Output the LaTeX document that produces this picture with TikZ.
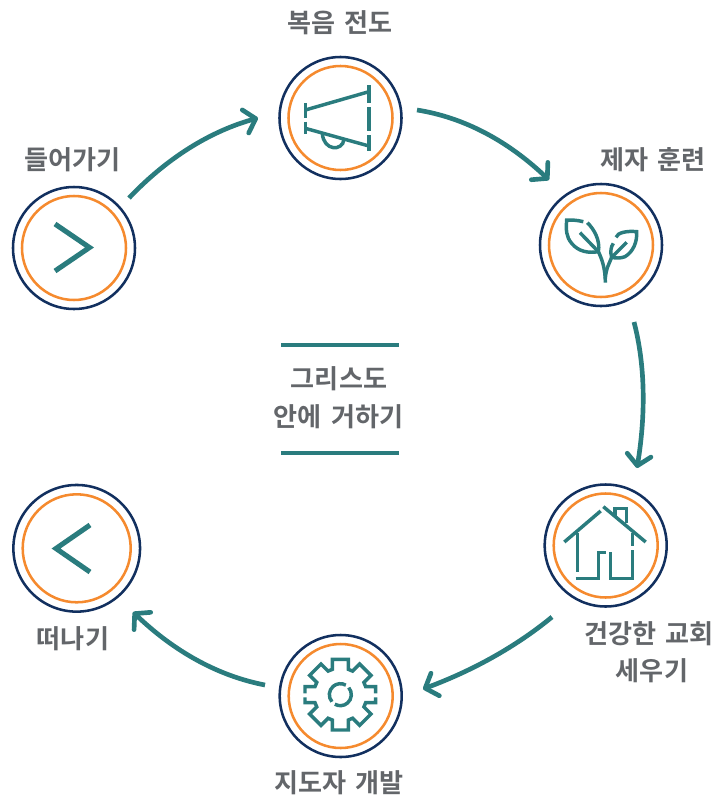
\documentclass[tikz,border=0pt]{standalone}
\usepackage{fontspec}
\setmainfont{Noto Sans CJK KR}[BoldFont={Noto Sans CJK KR Bold},WordSpace=1.6]
\usetikzlibrary{arrows.meta,calc}
\definecolor{teal1}{HTML}{2A7C7E}
\definecolor{navy1}{HTML}{12305F}
\definecolor{orange1}{HTML}{F58A2E}
\definecolor{grey1}{HTML}{63666A}
\tikzset{
  outerring/.style={circle,draw=navy1,line width=1.9pt,inner sep=0pt,minimum size=91.5pt},
  outerbig/.style={circle,draw=navy1,line width=1.9pt,inner sep=0pt,minimum size=95pt},
  innerring/.style={circle,draw=orange1,line width=1.9pt,inner sep=0pt,minimum size=78pt},
  innerbig/.style={circle,draw=orange1,line width=1.9pt,inner sep=0pt,minimum size=81pt},
  flow/.style={draw=teal1,line width=3.5pt,-{Straight Barb[length=8pt,width=18pt,round,line width=3.5pt]}},
  icon/.style={draw=teal1,line width=2.6pt},
  chev/.style={draw=teal1,line width=3.8pt,miter limit=10},
  rule/.style={draw=teal1,line width=2.8pt},
  lab/.style={text=grey1,font=\fontsize{19.6pt}{24pt}\selectfont\bfseries,inner sep=0pt,align=center},
  zoomed/.style={x=.25pt,y=-.25pt}
}
\begin{document}
\begin{tikzpicture}[x=.75pt,y=-.75pt]
\useasboundingbox (0,0) rectangle (717,800);
% rings
\node[outerring] (top) at (340.5,118) {};
\node[innerring] at (top) {};
\node[outerring] (disc) at (601,245) {};
\node[innerring] at (disc) {};
\node[outerring] (home) at (605.7,545.5) {};
\node[innerring] at (home) {};
\node[outerring] (gear) at (340.7,696) {};
\node[innerring] at (gear) {};
\node[outerbig] (leave) at (76.7,548.3) {};
\node[innerbig] at (leave) {};
\node[outerring] (enter) at (74,248) {};
\node[innerring] at (enter) {};
% labels
\node[lab] (l1) at (340,23) {복음 전도};
\node[lab] (l2) at (653,160) {제자 훈련};
\node[lab] (l3) at (72.5,160) {들어가기};
\node[lab] (l4) at (339,379) {그리스도};
\node[lab] (l5) at (338.5,417) {안에 거하기};
\node[lab] (l6) at (649,634) {건강한 교회};
\node[lab] (l7) at (652,671) {세우기};
\node[lab] (l8) at (73,639) {떠나기};
\node[lab] (l9) at (339,783) {지도자 개발};
% central rules
\coordinate (r1a) at (281,345); \coordinate (r1b) at (399,345);
\coordinate (r2a) at (281,453); \coordinate (r2b) at (399,453);
\draw[rule] (r1a) -- (r1b);
\draw[rule] (r2a) -- (r2b);
% connector ends
\coordinate (a1s) at ([shift={(55,-50)}]enter.center);
\coordinate (a1e) at ([shift={(-82.5,0)}]top.center);
\coordinate (a2s) at ([shift={(76.5,-8)}]top.center);
\coordinate (a2e) at ([shift={(-52,-65)}]disc.center);
\coordinate (a3s) at ([shift={(33,77)}]disc.center);
\coordinate (a3e) at ([shift={(31.3,-77.5)}]home.center);
\coordinate (a4s) at ([shift={(-53.7,71.5)}]home.center);
\coordinate (a4e) at ([shift={(82.3,-7)}]gear.center);
\coordinate (a5s) at ([shift={(-75.7,-11)}]gear.center);
\coordinate (a5e) at ([shift={(56.3,63.7)}]leave.center);
\coordinate (c1) at (186,138);
\coordinate (c2) at (487,121);
\coordinate (c3) at (650.5,385);
\coordinate (c4) at (498.5,661);
\coordinate (c5) at (195,671.5);
\draw[flow] (a1s) .. controls ($(a1s)!.667!(c1)$) and ($(a1e)!.667!(c1)$) .. (a1e);
\draw[flow] (a2s) .. controls ($(a2s)!.667!(c2)$) and ($(a2e)!.667!(c2)$) .. (a2e);
\draw[flow] (a3s) .. controls ($(a3s)!.667!(c3)$) and ($(a3e)!.667!(c3)$) .. (a3e);
\draw[flow] (a4s) .. controls ($(a4s)!.667!(c4)$) and ($(a4e)!.667!(c4)$) .. (a4e);
\draw[flow] (a5s) .. controls ($(a5s)!.667!(c5)$) and ($(a5e)!.667!(c5)$) .. (a5e);
% chevrons
\draw[chev] (55,224) -- (89.5,247.5) -- (55,271);
\draw[chev] (90,525) -- (56,548.5) -- (90,572);
% megaphone
\begin{scope}[shift={(270,50)},zoomed]
\draw[icon] (297,105) -- (297,158);
\draw[icon] (297,172) -- (297,244);
\draw[icon] (297,256) -- (297,304);
\draw[icon] (106,160) -- (106,205);
\draw[icon] (106,215) -- (106,252);
\draw[icon] (106,180) -- (297,125);
\draw[icon] (106,235) -- (297,288);
\draw[icon] (157,250) .. controls (160,303) and (218,305) .. (222,268);
\end{scope}
% sprout
\begin{scope}[shift={(530,180)},zoomed]
\draw[icon] (160,125) .. controls (140,120) and (125,120) .. (110,120) .. controls (108,150) and (108,170) .. (125,190) .. controls (145,215) and (175,220) .. (205,215);
\draw[icon] (172,128) .. controls (190,145) and (212,180) .. (205,215);
\draw[icon] (150,158) -- (205,215) .. controls (215,235) and (226,265) .. (226,308);
\draw[icon] (258,172) .. controls (262,158) and (290,152) .. (320,155) .. controls (322,185) and (310,215) .. (285,230) .. controls (272,235) and (258,235) .. (245,232) .. controls (240,215) and (243,200) .. (250,190);
\draw[icon] (290,187) -- (245,232) .. controls (238,250) and (228,265) .. (226,295);
\end{scope}
% house
\begin{scope}[shift={(535,480)},zoomed]
\draw[icon] (88,186) -- (197,93);
\draw[icon] (205,80) -- (332,186);
\draw[icon] (240,108) -- (240,86) -- (275,86) -- (275,128);
\draw[icon] (127,160) -- (127,277);
\draw[icon] (293,160) -- (293,197);
\draw[icon] (293,210) -- (293,295) -- (226,295) -- (226,215);
\draw[icon] (122,295) -- (190,295) -- (190,218) -- (212,218);
\end{scope}
% gear
\begin{scope}[shift={(270,630)},zoomed]
\begin{scope}[shift={(211,194)}]
\draw[icon] (-106,-4) -- (-106,-24) -- (-76,-24)
  \foreach \t in {-45,0,45} {
    -- ({-24*cos(\t)+76*sin(\t)},{-24*sin(\t)-76*cos(\t)})
    -- ({-24*cos(\t)+106*sin(\t)},{-24*sin(\t)-106*cos(\t)})
    -- ({24*cos(\t)+106*sin(\t)},{24*sin(\t)-106*cos(\t)})
    -- ({24*cos(\t)+76*sin(\t)},{24*sin(\t)-76*cos(\t)})
  } -- (76,-24) -- (106,-24) -- (106,-4);
\draw[icon] (106,8) -- (106,24) -- (76,24)
  \foreach \t in {135,180,225} {
    -- ({-24*cos(\t)+76*sin(\t)},{-24*sin(\t)-76*cos(\t)})
    -- ({-24*cos(\t)+106*sin(\t)},{-24*sin(\t)-106*cos(\t)})
    -- ({24*cos(\t)+106*sin(\t)},{24*sin(\t)-106*cos(\t)})
    -- ({24*cos(\t)+76*sin(\t)},{24*sin(\t)-76*cos(\t)})
  } -- (-76,24) -- (-106,24) -- (-106,8);
\draw[icon] (140:33) arc[start angle=140,end angle=300,radius=33];
\draw[icon] (320:33) arc[start angle=320,end angle=480,radius=33];
\end{scope}
\end{scope}
\end{tikzpicture}
\end{document}
